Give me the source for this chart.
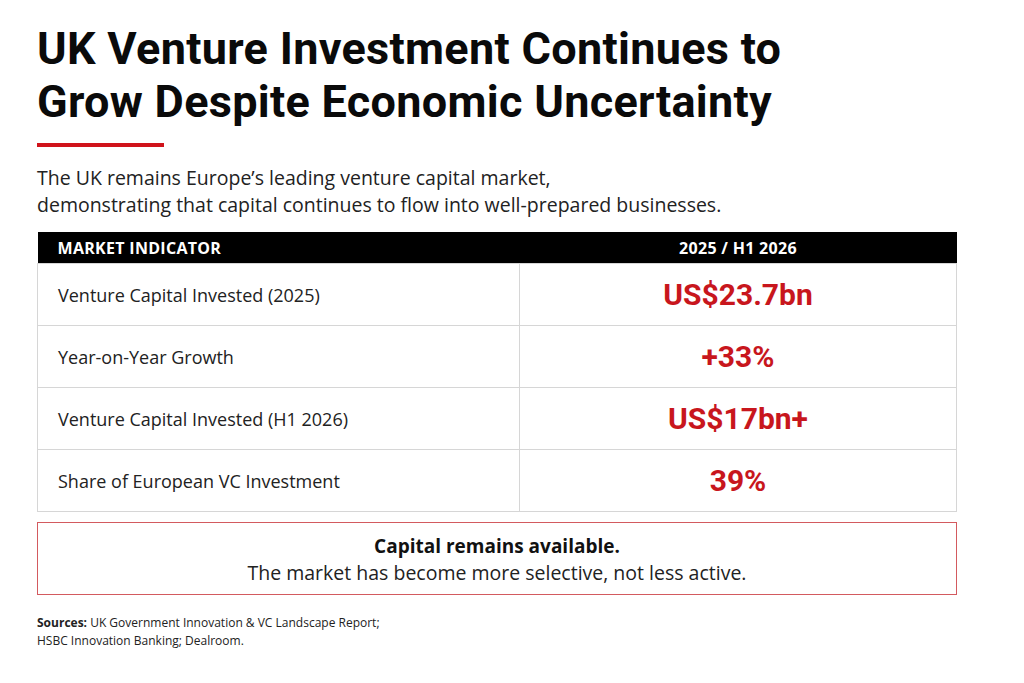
<!DOCTYPE html>
<html><head><meta charset="utf-8">
<script src="https://cdn.jsdelivr.net/npm/chart.js@4/dist/chart.umd.min.js"></script>
<style>
body{margin:0;width:1024px;height:683px;background:#fff;font-family:"Open Sans",sans-serif;color:#111;position:relative;overflow:hidden}
h1{position:absolute;left:37px;top:22px;margin:0;font-family:Roboto,sans-serif;font-weight:700;font-size:45px;line-height:53px;letter-spacing:0.3px;color:#0a0a0a;white-space:nowrap}
.rule{position:absolute;left:37px;top:143px;width:127px;height:4px;background:#d0131b}
.sub{position:absolute;left:37px;top:164px;font-size:19.5px;line-height:27px;color:#222;white-space:nowrap}
table{position:absolute;left:37px;top:232px;width:920px;border-collapse:collapse}
th{background:#000;color:#fff;font-size:16px;font-weight:700;height:31px;text-align:left;padding:0 20px;letter-spacing:0.3px}
th.v{text-align:center}
td{border:1px solid #d6d6d6;height:61px;padding:0 20px;font-size:18px;color:#222}
td.v{text-align:center;color:#c8161d;font-family:Roboto,sans-serif;font-weight:700;font-size:30px;width:396px}
.box{position:absolute;left:37px;top:522px;width:918px;height:71px;border:1px solid #d35a5f;text-align:center}
.box b{display:block;margin-top:10px;font-size:19px}
.box span{font-size:19.5px;color:#222}
.src{position:absolute;left:37px;top:614px;font-size:12px;line-height:18px;color:#222}
</style></head><body>
<h1 id="t"></h1><div class="rule"></div>
<div class="sub" id="s"></div>
<table id="tb"></table>
<div class="box"><b id="b1"></b><span id="b2"></span></div>
<div class="src" id="src"></div>
<script>
const titleLines=["UK Venture Investment Continues to","Grow Despite Economic Uncertainty"];
const subtitleLines=["The UK remains Europe’s leading venture capital market,","demonstrating that capital continues to flow into well-prepared businesses."];
const headers=["MARKET INDICATOR","2025 / H1 2026"];
const indicators=["Venture Capital Invested (2025)","Year-on-Year Growth","Venture Capital Invested (H1 2026)","Share of European VC Investment"];
const values=["US$23.7bn","+33%","US$17bn+","39%"];
const noteBold="Capital remains available.";
const noteText="The market has become more selective, not less active.";
const sources=["<b>Sources:</b> UK Government Innovation &amp; VC Landscape Report;","HSBC Innovation Banking; Dealroom."];
document.getElementById('t').innerHTML=titleLines.join('<br>');
document.getElementById('s').innerHTML=subtitleLines.join('<br>');
let h='<tr><th>'+headers[0]+'</th><th class="v">'+headers[1]+'</th></tr>';
indicators.forEach((r,i)=>h+='<tr><td>'+r+'</td><td class="v">'+values[i]+'</td></tr>');
document.getElementById('tb').innerHTML=h;
document.getElementById('b1').textContent=noteBold;
document.getElementById('b2').textContent=noteText;
document.getElementById('src').innerHTML=sources.join('<br>');
</script></body></html>
